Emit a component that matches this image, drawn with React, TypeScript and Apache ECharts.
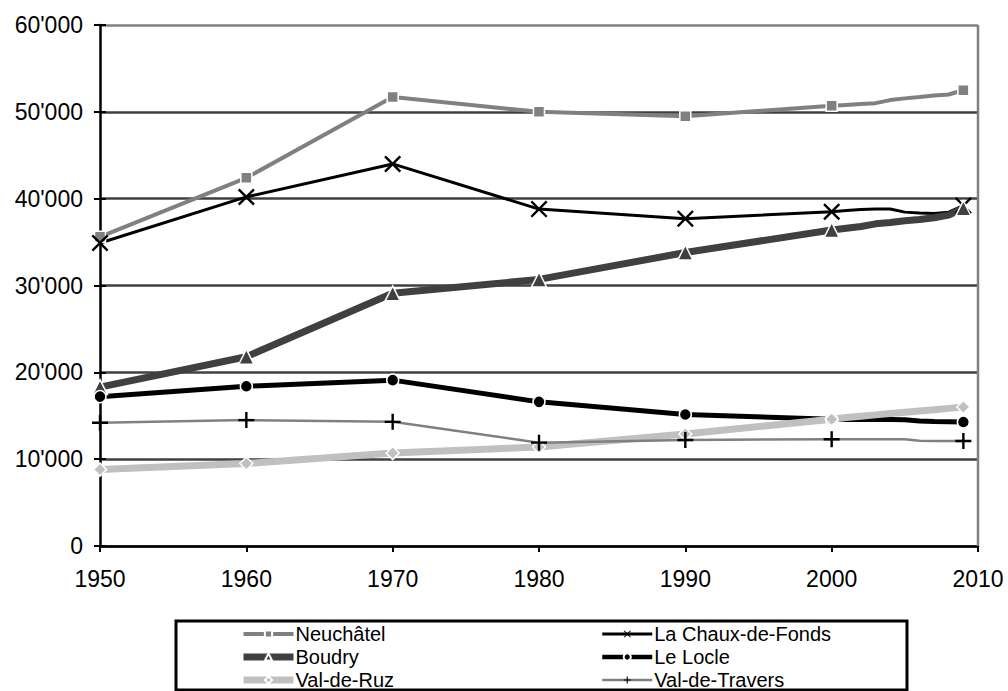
import React, { useEffect, useRef } from "react";
import * as echarts from "echarts";

const years = [1950, 1960, 1970, 1980, 1990, 2000, 2001, 2002, 2003, 2004, 2005, 2006, 2007, 2008, 2009];
const markerYears = [1950, 1960, 1970, 1980, 1990, 2000, 2009];

const neuchatel = [35600, 42400, 51700, 50000, 49500, 50700, 50800, 50900, 51000, 51350, 51550, 51700, 51880, 52000, 52500];
const chauxDeFonds = [34900, 40200, 44000, 38800, 37700, 38500, 38650, 38750, 38800, 38800, 38450, 38350, 38300, 38450, 39200];
const boudry = [18300, 21800, 29100, 30700, 33800, 36400, 36600, 36800, 37100, 37250, 37450, 37600, 37800, 38100, 38900];
const leLocle = [17200, 18400, 19100, 16600, 15150, 14600, 14580, 14570, 14560, 14560, 14550, 14400, 14340, 14320, 14280];
const valDeRuz = [8800, 9500, 10700, 11400, 12900, 14600, 14800, 14950, 15100, 15250, 15400, 15550, 15700, 15850, 16000];
const valDeTravers = [14200, 14500, 14300, 11900, 12200, 12300, 12300, 12300, 12300, 12300, 12290, 12120, 12100, 12100, 12100];

const yTicks = [0, 10000, 20000, 30000, 40000, 50000, 60000];

const X_PATH = "path://M0,2 L2,0 L10,8 L18,0 L20,2 L12,10 L20,18 L18,20 L10,12 L2,20 L0,18 L8,10 Z";
const PLUS_PATH = "path://M8.5,0 L11.5,0 L11.5,8.5 L20,8.5 L20,11.5 L11.5,11.5 L11.5,20 L8.5,20 L8.5,11.5 L0,11.5 L0,8.5 L8.5,8.5 Z";

const FONT = "'Liberation Sans', Arial, sans-serif";

function buildData(vals: number[]) {
  return years.map((y, i) => {
    const item: any = { value: [y, vals[i]] };
    if (markerYears.indexOf(y) < 0) item.symbol = "none";
    return item;
  });
}

export default function App() {
  const ref = useRef<HTMLDivElement>(null);
  useEffect(() => {
    if (!ref.current) return;
    const chart = echarts.init(ref.current, null, { renderer: "svg" });
    const mk = (
      name: string,
      vals: number[],
      color: string,
      width: number,
      symbol: string,
      size: number,
      symColor: string,
      border: number
    ) => ({
      name,
      type: "line",
      data: buildData(vals),
      symbol,
      symbolSize: size,
      showAllSymbol: true,
      lineStyle: { color, width },
      itemStyle: { color: symColor, borderColor: "#ffffff", borderWidth: border },
      emphasis: { disabled: true },
    });
    const legendText = { fontSize: 20, fontFamily: FONT, color: "#000000", lineHeight: 20, padding: [0, 0, 0, -3] };
    const legendCommon = {
      orient: "vertical",
      top: 624,
      height: 80,
      padding: 0,
      itemWidth: 50,
      itemHeight: 9,
      itemGap: 3,
      selectedMode: false,
      textStyle: legendText,
    };
    chart.setOption({
      animation: false,
      backgroundColor: "#ffffff",
      grid: { left: 100, right: 30, top: 25, bottom: 145, show: false },
      xAxis: {
        type: "value",
        min: 1950,
        max: 2010,
        interval: 10,
        axisLine: { lineStyle: { color: "#000000", width: 2.5 } },
        axisTick: { show: true, length: 6, lineStyle: { color: "#000000", width: 2 } },
        axisLabel: {
          color: "#000000",
          fontSize: 23,
          fontFamily: FONT,
          margin: 21,
          formatter: (v: number) => String(v),
        },
        splitLine: { show: false },
      },
      yAxis: [
        {
          type: "value",
          min: yTicks[0],
          max: yTicks[yTicks.length - 1],
          interval: 10000,
          axisLine: { show: true, lineStyle: { color: "#000000", width: 2.5 } },
          axisTick: { show: true, length: 6, lineStyle: { color: "#000000", width: 2 } },
          axisLabel: {
            color: "#000000",
            fontSize: 23,
            fontFamily: FONT,
            margin: 17,
            formatter: (v: number) => (v === 0 ? "0" : v / 1000 + "'000"),
          },
          splitLine: {
            show: true,
            lineStyle: {
              color: ["#404040", "#404040", "#404040", "#404040", "#404040", "#404040", "#808080"],
              width: 2.5,
            },
          },
        },
        {
          type: "value",
          min: yTicks[0],
          max: yTicks[yTicks.length - 1],
          interval: 10000,
          position: "left",
          axisLine: { show: false },
          axisTick: { show: true, inside: true, length: 6, lineStyle: { color: "#000000", width: 2 } },
          axisLabel: { show: false },
          splitLine: { show: false },
        },
      ],
      graphic: [
        {
          type: "line",
          shape: { x1: 978, y1: 25, x2: 978, y2: 546 },
          style: { stroke: "#808080", lineWidth: 2.5 },
          z: 1,
        },
        {
          type: "rect",
          shape: { x: 176, y: 621, width: 731, height: 69 },
          style: { fill: "none", stroke: "#000000", lineWidth: 3 },
        },
      ],
      legend: [
        {
          ...legendCommon,
          left: 240,
          data: [
            { name: "Neuchâtel", lineStyle: { width: 4 } },
            { name: "Boudry", lineStyle: { width: 7 } },
            { name: "Val-de-Ruz", lineStyle: { width: 7 } },
          ],
        },
        {
          ...legendCommon,
          left: 600,
          data: [
            { name: "La Chaux-de-Fonds", lineStyle: { width: 3 } },
            { name: "Le Locle", lineStyle: { width: 4.5 } },
            { name: "Val-de-Travers", lineStyle: { width: 2.5 } },
          ],
        },
      ],
      series: [
        mk("Neuchâtel", neuchatel, "#808080", 4, "rect", 11, "#808080", 1.5),
        mk("La Chaux-de-Fonds", chauxDeFonds, "#000000", 3, X_PATH, 17, "#000000", 0),
        mk("Boudry", boudry, "#404040", 7, "triangle", 15, "#404040", 1.5),
        mk("Le Locle", leLocle, "#000000", 5, "circle", 12, "#000000", 1.5),
        mk("Val-de-Ruz", valDeRuz, "#c0c0c0", 7, "diamond", 13, "#c0c0c0", 1.5),
        mk("Val-de-Travers", valDeTravers, "#808080", 2.5, PLUS_PATH, 16, "#000000", 0),
      ],
    });
    return () => chart.dispose();
  }, []);
  return (
    <div
      ref={ref}
      style={{ position: "fixed", left: 0, top: 0, width: 1008, height: 691, background: "#fff" }}
    />
  );
}
